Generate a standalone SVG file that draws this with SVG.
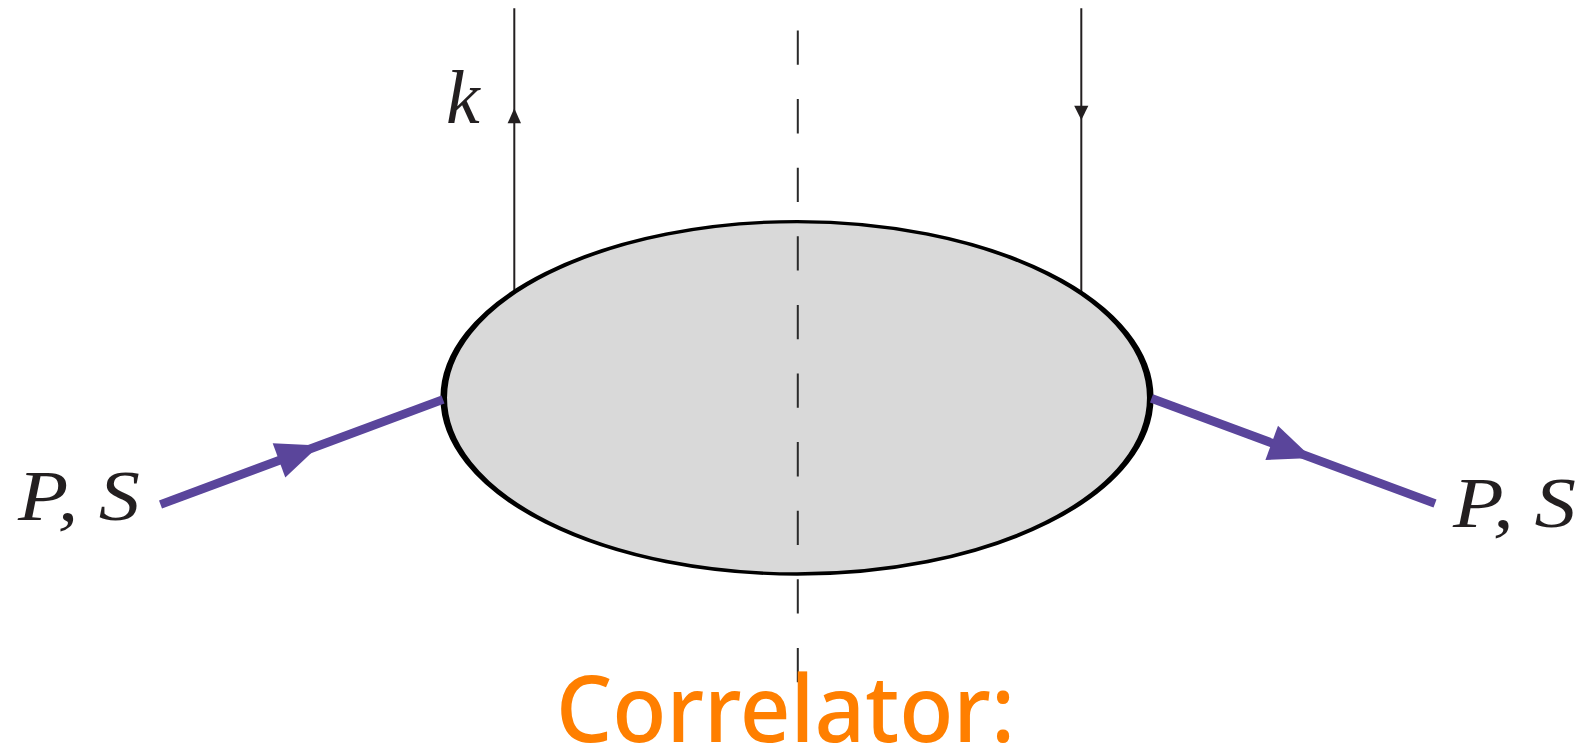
<svg xmlns="http://www.w3.org/2000/svg" width="1585" height="755" viewBox="0 0 1585 755">
  <style>
    .thin { stroke: #231f20; stroke-width: 2; fill: none; }
    .dash { stroke: #2a2a2a; stroke-width: 2; fill: none; stroke-dasharray: 34.3 34.3; }
    .ahead { fill: #231f20; stroke: none; }
    .purple { stroke: #5a459b; stroke-width: 8.7; fill: none; stroke-linecap: butt; }
    .phead { fill: #5a459b; stroke: none; }
    .math { font-family: "Liberation Serif", "DejaVu Serif", serif; font-style: italic; fill: #231f20; }
    .title { font-family: "Comic Sans MS", "Noto Sans", "DejaVu Sans", sans-serif; fill: #ff7f00; font-weight: 500; }
  </style>
  <rect x="0" y="0" width="1585" height="755" fill="#ffffff"/>

  <g id="connectors">
    <line class="thin" x1="514.3" y1="8.3" x2="514.3" y2="293"/>
    <polygon class="ahead" points="514.3,108.3 507.6,123.3 521,123.3"/>
    <line class="thin" x1="1081.3" y1="8.3" x2="1081.3" y2="294"/>
    <polygon class="ahead" points="1081.3,120 1074.2,105.7 1088.4,105.7"/>
  </g>

  <g id="correlator-blob">
    <ellipse cx="0" cy="0" rx="176.2" ry="176.2" transform="translate(797,397.8) scale(2.005,1)" fill="#d9d9d9" stroke="#000000" stroke-width="3.3"/>
  </g>

  <g id="cut-line">
    <line class="dash" x1="797.8" y1="30.5" x2="797.8" y2="682.5"/>
  </g>

  <g id="incoming">
    <line class="purple" x1="160.5" y1="504.5" x2="443" y2="399.5"/>
    <polygon class="phead" points="319.3,445.4 272.7,443.3 285.3,477.5"/>
  </g>

  <g id="outgoing">
    <line class="purple" x1="1151.5" y1="398.3" x2="1435" y2="503.5"/>
    <polygon class="phead" points="1312,457.9 1265.4,460 1278,425.8"/>
  </g>

  <g id="labels">
    <text class="math" x="446" y="123" font-size="76">k</text>
    <text class="math" x="18" y="520" font-size="72" textLength="122" lengthAdjust="spacingAndGlyphs">P, S</text>
    <text class="math" x="1453" y="527" font-size="72" textLength="123" lengthAdjust="spacingAndGlyphs">P, S</text>
  </g>

  <g id="title">
    <text class="title" x="556" y="742" font-size="93" textLength="459" lengthAdjust="spacingAndGlyphs">Correlator:</text>
  </g>
</svg>
